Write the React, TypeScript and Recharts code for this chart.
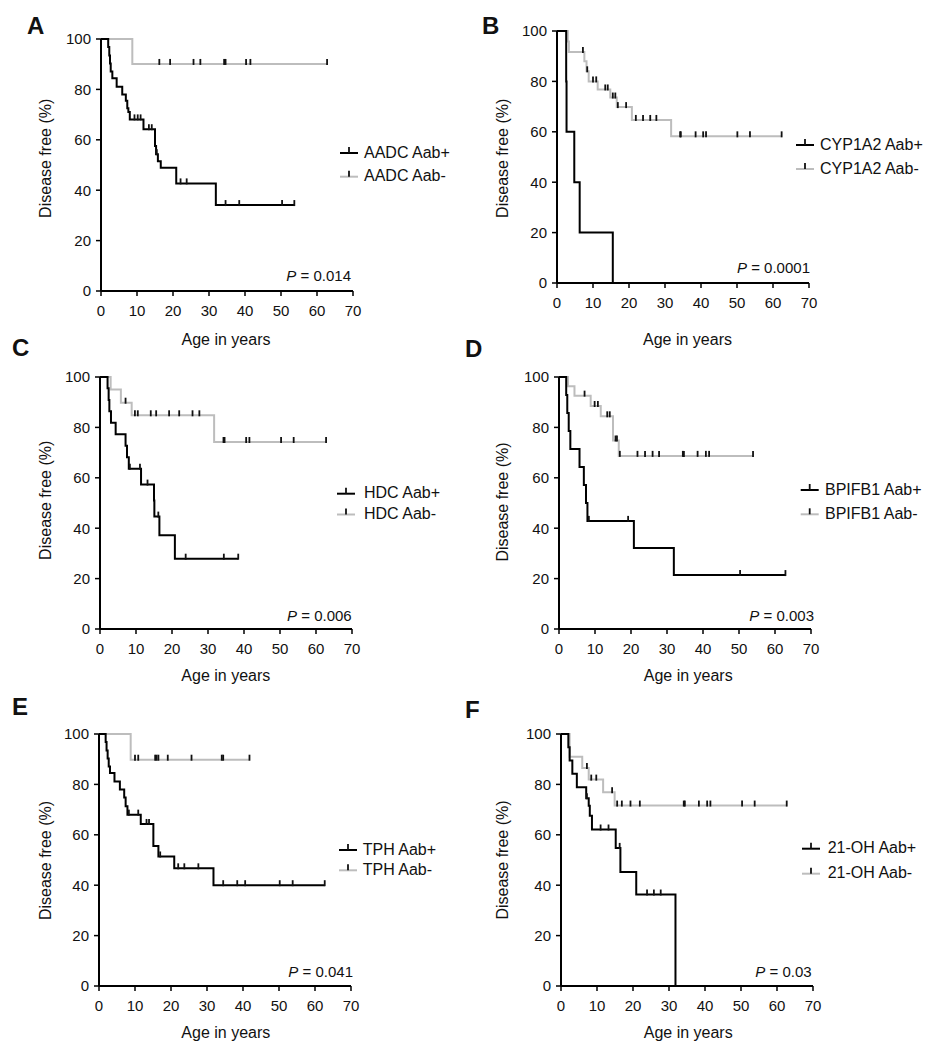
import { ComposedChart, Line, Scatter, XAxis, YAxis } from "recharts";

type Pt = [number, number];

const FONT = '"Liberation Sans", Arial, sans-serif';

const xTicks = [0, 10, 20, 30, 40, 50, 60, 70];
const yTicks = [0, 20, 40, 60, 80, 100];

const panelLetters = ["A", "B", "C", "D", "E", "F"];
const markerNames = ["AADC", "CYP1A2", "HDC", "BPIFB1", "TPH", "21-OH"];
const pValues = ["0.014", "0.0001", "0.006", "0.003", "0.041", "0.03"];

// A: AADC
const aadcPos: Pt[] = [[0, 100], [2.0, 96.8], [2.3, 93.5], [2.5, 90.3], [2.7, 87.1], [3.15, 84.4], [4.35, 81.1], [5.9, 78.0], [6.9, 75.5], [7.3, 72.5], [7.6, 71.0], [8.0, 68.1], [11.8, 64.2], [15.0, 57.5], [15.3, 54.3], [15.8, 51.5], [16.6, 48.9], [20.9, 42.7], [31.9, 34.1], [53.7, 34.1]];
const aadcPosCensor = [9.3, 10.2, 11.0, 13.3, 14.1, 15.5, 22.1, 23.8, 34.6, 38.4, 50.3, 53.7];
const aadcNeg: Pt[] = [[0, 100], [8.7, 90.1], [62.8, 90.1]];
const aadcNegCensor = [16.2, 19.2, 25.7, 27.6, 34.2, 34.6, 40.3, 41.5, 62.8];

// B: CYP1A2
const cypPos: Pt[] = [[0, 100], [2.55, 80], [2.65, 60], [4.8, 40], [6.3, 20], [15.5, 0]];
const cypPosCensor: number[] = [];
const cypNeg: Pt[] = [[0, 100], [3.0, 95.8], [3.3, 91.7], [7.6, 88.0], [8.2, 84.0], [8.8, 80.0], [11.3, 76.8], [14.8, 73.6], [16.6, 69.8], [20.8, 64.7], [31.7, 58.2], [62.4, 58.2]];
const cypNegCensor = [7.2, 8.4, 10.0, 10.9, 13.4, 14.1, 15.5, 16.2, 16.9, 19.2, 21.9, 23.9, 25.9, 27.6, 34.2, 34.4, 38.5, 40.6, 41.4, 50.1, 53.6, 62.4];

// C: HDC
const hdcPos: Pt[] = [[0, 100], [2.1, 95.5], [2.4, 90.9], [2.6, 86.4], [3.05, 81.8], [4.35, 77.3], [7.1, 72.7], [7.5, 68.2], [8.0, 63.6], [11.4, 57.3], [15.0, 51.0], [15.1, 44.6], [16.5, 37.2], [20.8, 27.9], [38.4, 27.9]];
const hdcPosCensor = [8.3, 11.1, 13.2, 16.2, 23.8, 34.4, 38.4];
const hdcNeg: Pt[] = [[0, 100], [2.96, 95.0], [5.8, 89.8], [8.8, 84.8], [31.7, 74.2], [62.8, 74.2]];
const hdcNegCensor = [7.1, 9.7, 10.5, 14.1, 15.6, 19.2, 22.0, 25.7, 27.6, 34.3, 34.6, 40.6, 41.5, 50.3, 53.8, 62.8];

// D: BPIFB1
const bpiPos: Pt[] = [[0, 100], [2.0, 92.9], [2.3, 85.7], [2.7, 78.6], [3.15, 71.4], [5.7, 64.3], [6.9, 57.1], [7.5, 50.0], [7.9, 42.9], [20.8, 32.1], [31.9, 21.4], [62.9, 21.4]];
const bpiPosCensor = [8.3, 19.2, 50.3, 62.9];
const bpiNeg: Pt[] = [[0, 100], [2.5, 96.3], [4.3, 92.6], [8.8, 88.5], [11.6, 84.4], [15.0, 74.8], [16.6, 68.7], [53.9, 68.7]];
const bpiNegCensor = [7.1, 9.9, 10.8, 13.4, 14.1, 15.7, 16.1, 16.9, 21.8, 23.9, 26.0, 27.8, 34.4, 34.7, 38.5, 40.8, 41.7, 53.9];

// E: TPH
const tphPos: Pt[] = [[0, 100], [1.85, 96.8], [2.1, 93.5], [2.4, 90.3], [2.7, 87.1], [3.05, 84.5], [4.3, 81.2], [5.8, 78.0], [7.0, 74.8], [7.4, 71.3], [7.9, 68.0], [11.6, 64.3], [15.1, 55.6], [16.5, 51.4], [20.9, 46.7], [31.8, 40.0], [62.7, 40.0]];
const tphPosCensor = [8.3, 10.9, 13.2, 13.9, 17.0, 22.0, 23.7, 27.6, 34.5, 38.4, 40.6, 50.2, 53.8, 62.7];
const tphNeg: Pt[] = [[0, 100], [8.8, 89.8], [41.8, 89.8]];
const tphNegCensor = [10.0, 10.9, 15.6, 16.0, 16.5, 19.1, 25.7, 34.1, 34.5, 41.8];

// F: 21-OH
const ohPos: Pt[] = [[0, 100], [2.04, 94.7], [2.4, 89.5], [3.15, 84.2], [4.4, 78.9], [7.0, 74.5], [7.7, 71.5], [8.0, 67.6], [8.6, 62.1], [15.2, 54.8], [16.5, 45.2], [20.9, 36.3], [31.8, 0]];
const ohPosCensor = [7.2, 11.0, 13.2, 16.3, 23.9, 25.8, 27.7];
const ohNeg: Pt[] = [[0, 100], [2.4, 91.0], [5.9, 86.5], [7.7, 81.9], [11.7, 76.9], [14.9, 71.6], [62.7, 71.6]];
const ohNegCensor = [7.2, 8.4, 9.8, 14.2, 15.6, 16.9, 19.3, 21.9, 34.1, 34.4, 38.3, 40.6, 41.5, 50.3, 53.8, 62.7];

const curves = [
  { pos: aadcPos, posC: aadcPosCensor, neg: aadcNeg, negC: aadcNegCensor },
  { pos: cypPos, posC: cypPosCensor, neg: cypNeg, negC: cypNegCensor },
  { pos: hdcPos, posC: hdcPosCensor, neg: hdcNeg, negC: hdcNegCensor },
  { pos: bpiPos, posC: bpiPosCensor, neg: bpiNeg, negC: bpiNegCensor },
  { pos: tphPos, posC: tphPosCensor, neg: tphNeg, negC: tphNegCensor },
  { pos: ohPos, posC: ohPosCensor, neg: ohNeg, negC: ohNegCensor },
];

// page layout of each panel (plot origin, text anchors)
const layout = [
  { px: 101, py: 39, letter: [27, 34.3], yt: [45.5, 158.3], xt: [226, 340.7], lx: 340, tx: 364, rows: [152, 175.7], p: [351, 276] },
  { px: 557, py: 31, letter: [482, 34], yt: [502.7, 158.3], xt: [687.5, 340.7], lx: 796, tx: 820, rows: [144, 168], p: [810, 268] },
  { px: 100, py: 377, letter: [12, 356], yt: [45, 500.3], xt: [225.8, 677.3], lx: 337, tx: 364, rows: [492.7, 513.5], p: [351.7, 616] },
  { px: 559, py: 377, letter: [465, 356.7], yt: [502.3, 502], xt: [688.2, 677.3], lx: 800.7, tx: 825, rows: [489, 513.3], p: [814, 616] },
  { px: 99, py: 734, letter: [12, 715], yt: [45, 860.5], xt: [225.8, 1034.3], lx: 339, tx: 362.7, rows: [849, 869.3], p: [353, 971.7] },
  { px: 561, py: 734, letter: [465, 718], yt: [502.3, 860], xt: [688.2, 1034.3], lx: 802, tx: 827.7, rows: [847.7, 872.7], p: [811.7, 972] },
];

const GRAY = "#bdbdbd";
const INK = "#111";
const PLOT = 252;
const YW = 70;

const levelAt = (curve: Pt[], t: number) => {
  let s = curve[0][1];
  for (const [x, y] of curve) if (x <= t) s = y;
  return s;
};

const CensorTick = (props: any) => {
  const { cx, cy } = props;
  if (cx == null || cy == null) return <g />;
  return <line x1={cx} y1={cy + 1} x2={cx} y2={cy - 5} stroke={INK} strokeWidth={1.8} />;
};

function KMPanel({ idx }: { idx: number }) {
  const c = curves[idx];
  const l = layout[idx];
  const pos = c.pos.map(([x, y]) => ({ x, y }));
  const neg = c.neg.map(([x, y]) => ({ x, y }));
  const posC = c.posC.map((x) => ({ x, y: levelAt(c.pos, x) }));
  const negC = c.negC.map((x) => ({ x, y: levelAt(c.neg, x) }));
  const tickStyle = { fill: INK, fontSize: 15, fontFamily: FONT };
  return (
    <div style={{ position: "absolute", left: l.px - YW, top: l.py - 10 }}>
      <ComposedChart width={YW + PLOT + 15} height={10 + PLOT + 60} margin={{ top: 10, right: 15, bottom: 0, left: 0 }}>
        <XAxis
          type="number"
          dataKey="x"
          domain={[0, 70]}
          ticks={xTicks}
          interval={0}
          height={60}
          tickSize={5}
          tickMargin={9}
          tick={tickStyle}
          axisLine={{ stroke: "#000", strokeWidth: 2 }}
          tickLine={{ stroke: "#000", strokeWidth: 1.5 }}
        />
        <YAxis
          type="number"
          dataKey="y"
          domain={[0, 100]}
          ticks={yTicks}
          interval={0}
          width={YW}
          tickSize={5}
          tickMargin={5}
          tick={tickStyle}
          axisLine={{ stroke: "#000", strokeWidth: 2 }}
          tickLine={{ stroke: "#000", strokeWidth: 1.5 }}
        />
        <Line data={neg} dataKey="y" type="stepAfter" stroke={GRAY} strokeWidth={2} dot={false} isAnimationActive={false} />
        <Line data={pos} dataKey="y" type="stepAfter" stroke="#000" strokeWidth={2} dot={false} isAnimationActive={false} />
        <Scatter data={negC} shape={CensorTick} isAnimationActive={false} />
        <Scatter data={posC} shape={CensorTick} isAnimationActive={false} />
      </ComposedChart>
    </div>
  );
}

function Annotations() {
  return (
    <svg width={932} height={1050} style={{ position: "absolute", left: 0, top: 0, pointerEvents: "none" }} fontFamily={FONT}>
      {layout.map((l, i) => (
        <g key={i} fill={INK}>
          <text x={l.letter[0]} y={l.letter[1]} fontSize={24} fontWeight="bold">
            {panelLetters[i]}
          </text>
          <text transform={`translate(${l.yt[0]},${l.yt[1]}) rotate(-90)`} textAnchor="middle" dy="0.35em" fontSize={16}>
            Disease free (%)
          </text>
          <text x={l.xt[0]} y={l.xt[1] + 4} textAnchor="middle" fontSize={16}>
            Age in years
          </text>
          <text x={l.p[0]} y={l.p[1] + 5.4} textAnchor="end" fontSize={15}>
            <tspan fontStyle="italic">P</tspan> = {pValues[i]}
          </text>
          {["Aab+", "Aab-"].map((s, k) => (
            <g key={s}>
              <line x1={l.lx} x2={l.lx + 18} y1={l.rows[k] + 1} y2={l.rows[k] + 1} stroke={k === 0 ? "#000" : GRAY} strokeWidth={2} />
              <line x1={l.lx + 9} x2={l.lx + 9} y1={l.rows[k] + 1} y2={l.rows[k] - 5} stroke={INK} strokeWidth={1.8} />
              <text x={l.tx} y={l.rows[k] + 5.7} fontSize={16}>
                {markerNames[i]} {s}
              </text>
            </g>
          ))}
        </g>
      ))}
    </svg>
  );
}

export default function App() {
  return (
    <div style={{ position: "absolute", left: 0, top: 0, width: 932, height: 1050, background: "#fff" }}>
      {panelLetters.map((_, i) => (
        <KMPanel key={i} idx={i} />
      ))}
      <Annotations />
    </div>
  );
}
